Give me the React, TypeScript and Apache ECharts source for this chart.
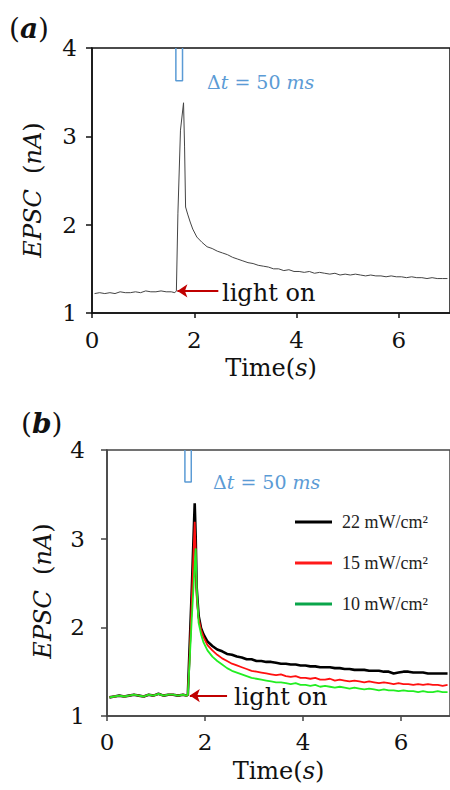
import React, { useEffect, useRef } from "react";
import * as echarts from "echarts";

// shared time base (s)
const timeS = [
  0.05, 0.15, 0.25, 0.35, 0.45, 0.55, 0.65, 0.75, 0.85, 0.95, 1.05, 1.15, 1.25, 1.35, 1.45, 1.55,
  1.62, 1.65, 1.68, 1.73, 1.79, 1.81, 1.83, 1.87, 1.92, 1.97, 2.05,
  2.15, 2.25, 2.35, 2.45, 2.55, 2.65, 2.75, 2.85, 2.95, 3.05,
  3.15, 3.25, 3.35, 3.45, 3.55, 3.65, 3.75, 3.85, 3.95, 4.05,
  4.15, 4.25, 4.35, 4.45, 4.55, 4.65, 4.75, 4.85, 4.95, 5.05,
  5.15, 5.25, 5.35, 5.45, 5.55, 5.65, 5.75, 5.85, 5.95, 6.05,
  6.15, 6.25, 6.35, 6.45, 6.55, 6.65, 6.75, 6.85, 6.95,
];

// panel (a) EPSC (nA)
const epscA = [
  1.22, 1.23, 1.22, 1.23, 1.22, 1.24, 1.23, 1.23, 1.24, 1.23, 1.25, 1.24, 1.24, 1.25, 1.24, 1.24,
  1.23, 1.25, 2.13, 3.07, 3.38, 2.88, 2.2, 2.12, 2.03, 1.95, 1.86,
  1.8, 1.75, 1.73, 1.7, 1.68, 1.66, 1.63, 1.61, 1.59, 1.57,
  1.56, 1.54, 1.53, 1.52, 1.5, 1.5, 1.48, 1.49, 1.47, 1.47,
  1.46, 1.47, 1.45, 1.46, 1.45, 1.44, 1.45, 1.43, 1.44, 1.43,
  1.44, 1.43, 1.42, 1.43, 1.42, 1.42, 1.41, 1.42, 1.41, 1.41,
  1.4, 1.41, 1.4, 1.4, 1.39, 1.4, 1.39, 1.39, 1.39,
];

// panel (b) EPSC (nA) for three light intensities
const epsc22 = [
  1.21, 1.22, 1.23, 1.22, 1.23, 1.24, 1.23, 1.22, 1.24, 1.23, 1.25, 1.23, 1.24, 1.24, 1.23, 1.24,
  1.23, 1.24, 1.69, 2.42, 3.4, 3.02, 2.45, 2.13, 1.99, 1.92, 1.84,
  1.79, 1.75, 1.73, 1.7, 1.69, 1.67, 1.66, 1.64, 1.64, 1.62,
  1.62, 1.61, 1.61, 1.6, 1.59, 1.59, 1.58, 1.58, 1.57, 1.57,
  1.56, 1.56, 1.55, 1.55, 1.55, 1.54, 1.54, 1.53, 1.53, 1.52,
  1.52, 1.52, 1.51, 1.51, 1.51, 1.5, 1.5, 1.48, 1.49, 1.5,
  1.5, 1.49, 1.49, 1.49, 1.48, 1.48, 1.48, 1.48, 1.48,
];
const epsc15 = [
  1.21, 1.22, 1.23, 1.22, 1.23, 1.24, 1.23, 1.22, 1.24, 1.23, 1.25, 1.23, 1.24, 1.24, 1.23, 1.24,
  1.23, 1.24, 1.6, 2.3, 3.19, 2.85, 2.35, 2.1, 1.97, 1.89, 1.8,
  1.74, 1.69, 1.65, 1.62, 1.59, 1.57, 1.55, 1.53, 1.51, 1.5,
  1.49, 1.48, 1.47, 1.46, 1.47, 1.45, 1.44, 1.45, 1.43, 1.43,
  1.42, 1.43, 1.41, 1.41, 1.42, 1.4, 1.41, 1.4, 1.39, 1.4,
  1.39, 1.38, 1.39, 1.38, 1.37, 1.38, 1.37, 1.36, 1.37, 1.36,
  1.36, 1.35, 1.36, 1.35, 1.36, 1.35, 1.35, 1.34, 1.35,
];
const epsc10 = [
  1.21, 1.22, 1.23, 1.22, 1.23, 1.24, 1.23, 1.22, 1.24, 1.23, 1.25, 1.23, 1.24, 1.24, 1.23, 1.24,
  1.23, 1.24, 1.55, 2.1, 2.7, 2.89, 2.45, 2.05, 1.92, 1.83, 1.74,
  1.67, 1.62, 1.58, 1.54, 1.51, 1.49, 1.47, 1.45, 1.43, 1.42,
  1.41, 1.4, 1.39, 1.38, 1.38, 1.37, 1.36, 1.37, 1.35, 1.35,
  1.34, 1.35, 1.33, 1.34, 1.33, 1.32, 1.33, 1.32, 1.31, 1.32,
  1.31, 1.3, 1.31, 1.3, 1.29, 1.3, 1.29, 1.29, 1.28, 1.29,
  1.28, 1.28, 1.27, 1.28, 1.27, 1.27, 1.28, 1.27, 1.27,
];

const seriesNames = ["22 mW/cm²", "15 mW/cm²", "10 mW/cm²"];

// light pulse (Δt = 50 ms) outlines, in data units
const pulseTimeA = [1.64, 1.64, 1.77, 1.77];
const pulseValA = [4, 3.63, 3.63, 4];
const pulseTimeB = [1.59, 1.59, 1.72, 1.72];
const pulseValB = [4, 3.64, 3.64, 4];

// "light on" arrows: [tail, head] in data units
const arrowA = [[2.47, 1.25], [1.67, 1.25]];
const arrowB = [[2.45, 1.23], [1.69, 1.23]];

const xTicksMax = 7;

const SERIF = "'DejaVu Serif', serif";
const TIMES = "'Liberation Serif', 'Times New Roman', serif";

function zip(t: number[], v: number[]) {
  return t.map((x, i) => [x, v[i]]);
}

function makeAxes(gridIndex: number, axisColor: string, yMargin: number, xMargin: number) {
  const x = {
    type: "value",
    gridIndex,
    min: 0,
    max: xTicksMax,
    interval: 2,
    splitLine: { show: false },
    axisLine: { lineStyle: { color: axisColor, width: 1.5 } },
    axisTick: { length: 5, lineStyle: { color: axisColor, width: 1.5 } },
    axisLabel: {
      showMaxLabel: false,
      margin: xMargin,
      fontFamily: SERIF,
      fontSize: 23,
      color: "#111",
    },
    name: "{n|Time(}{i|s}{n|)}",
    nameLocation: "middle",
    nameGap: 43,
    nameTextStyle: {
      rich: {
        n: { fontFamily: SERIF, fontSize: 24, color: "#111" },
        i: { fontFamily: SERIF, fontSize: 24, fontStyle: "italic", color: "#111" },
      },
    },
  };
  const y = {
    type: "value",
    gridIndex,
    min: 1,
    max: 4,
    interval: 1,
    splitLine: { show: false },
    axisLine: { lineStyle: { color: axisColor, width: 1.5 } },
    axisTick: { length: 6, lineStyle: { color: axisColor, width: 1.5 } },
    axisLabel: { margin: yMargin, fontFamily: SERIF, fontSize: 23, color: "#111" },
  };
  return { x, y };
}

function arrowLine(pts: number[][]) {
  return {
    silent: true,
    symbol: ["none", "arrow"],
    symbolSize: [10, 10],
    label: { show: false },
    lineStyle: { color: "#c00000", width: 2, type: "solid" },
    data: [[{ coord: pts[0] }, { coord: pts[1] }]],
  };
}

export default function App() {
  const ref = useRef<HTMLDivElement>(null);

  useEffect(() => {
    if (!ref.current) return;
    const chart = echarts.init(ref.current, undefined, { renderer: "svg" });
    const axA = makeAxes(0, "#111", 15, 15);
    const axB = makeAxes(1, "#444", 22, 14);

    const deltaRich = {
      n: { fontFamily: SERIF, fontSize: 19, fill: "#5b9bd5" },
      i: { fontFamily: SERIF, fontSize: 19, fontStyle: "italic", fill: "#5b9bd5" },
    };
    const yNameRich = {
      n: { fontFamily: SERIF, fontSize: 24, fill: "#111" },
      i: { fontFamily: SERIF, fontSize: 24, fontStyle: "italic", fill: "#111" },
    };
    const panelRich = {
      n: { fontFamily: SERIF, fontSize: 28, fill: "#111" },
      b: { fontFamily: SERIF, fontSize: 28, fontStyle: "italic", fontWeight: "bold", fill: "#111" },
    };

    const option: any = {
      animation: false,
      backgroundColor: "#fff",
      grid: [
        { left: 92, top: 48, width: 360, height: 265, show: true, borderColor: "#111", borderWidth: 1.5, backgroundColor: "transparent" },
        { left: 107, top: 450, width: 352, height: 266, show: true, borderColor: "#444", borderWidth: 1.5, backgroundColor: "transparent" },
      ],
      xAxis: [axA.x, axB.x],
      yAxis: [axA.y, axB.y],
      legend: {
        left: 290,
        top: 508,
        orient: "vertical",
        icon: "rect",
        itemWidth: 37,
        itemHeight: 3,
        itemGap: 23,
        textStyle: { fontFamily: TIMES, fontSize: 18, color: "#222", padding: [0, 0, 0, 5] },
        data: [
          { name: seriesNames[0], itemStyle: { color: "#000" } },
          { name: seriesNames[1], itemStyle: { color: "#ff1a1a" } },
          { name: seriesNames[2], itemStyle: { color: "#0aa54a" } },
        ],
      },
      series: [
        {
          type: "line",
          name: "a",
          xAxisIndex: 0,
          yAxisIndex: 0,
          data: zip(timeS, epscA),
          showSymbol: false,
          lineStyle: { color: "#444", width: 1 },
          markLine: arrowLine(arrowA),
        },
        {
          type: "line",
          name: "pulseA",
          xAxisIndex: 0,
          yAxisIndex: 0,
          data: zip(pulseTimeA, pulseValA),
          showSymbol: false,
          lineStyle: { color: "#5b9bd5", width: 1.5 },
        },
        {
          type: "line",
          name: seriesNames[0],
          xAxisIndex: 1,
          yAxisIndex: 1,
          data: zip(timeS, epsc22),
          showSymbol: false,
          itemStyle: { color: "#000" },
          lineStyle: { color: "#000", width: 2.6 },
        },
        {
          type: "line",
          name: seriesNames[1],
          xAxisIndex: 1,
          yAxisIndex: 1,
          data: zip(timeS, epsc15),
          showSymbol: false,
          itemStyle: { color: "#ff1a1a" },
          lineStyle: { color: "#ff1010", width: 1.8 },
        },
        {
          type: "line",
          name: seriesNames[2],
          xAxisIndex: 1,
          yAxisIndex: 1,
          data: zip(timeS, epsc10),
          showSymbol: false,
          itemStyle: { color: "#0aa54a" },
          lineStyle: { color: "#22ee22", width: 1.8 },
          markLine: arrowLine(arrowB),
        },
        {
          type: "line",
          name: "pulseB",
          xAxisIndex: 1,
          yAxisIndex: 1,
          data: zip(pulseTimeB, pulseValB),
          showSymbol: false,
          lineStyle: { color: "#5b9bd5", width: 1.5 },
        },
      ],
      graphic: [
        { type: "text", x: 9, y: 28, style: { text: "{n|(}{b|a}{n|)}", rich: panelRich, verticalAlign: "middle" } },
        { type: "text", x: 21, y: 423, style: { text: "{n|(}{b|b}{n|)}", rich: panelRich, verticalAlign: "middle" } },
        {
          type: "text", x: 33, y: 190, rotation: Math.PI / 2,
          style: { text: "{i|EPSC }{n| (}{i|nA}{n|)}", rich: yNameRich, align: "center", verticalAlign: "middle" },
        },
        {
          type: "text", x: 43, y: 591, rotation: Math.PI / 2,
          style: { text: "{i|EPSC }{n| (}{i|nA}{n|)}", rich: yNameRich, align: "center", verticalAlign: "middle" },
        },
        { type: "text", x: 207, y: 82, style: { text: "{n|Δ}{i|t}{n| = 50 }{i|ms}", rich: deltaRich, verticalAlign: "middle" } },
        { type: "text", x: 213, y: 482, style: { text: "{n|Δ}{i|t}{n| = 50 }{i|ms}", rich: deltaRich, verticalAlign: "middle" } },
        { type: "text", x: 222, y: 293, style: { text: "light on", font: `24px ${SERIF}`, fill: "#111", verticalAlign: "middle" } },
        { type: "text", x: 234, y: 697, style: { text: "light on", font: `24px ${SERIF}`, fill: "#111", verticalAlign: "middle" } },
      ],
    };
    chart.setOption(option);
    return () => chart.dispose();
  }, []);

  return (
    <div
      ref={ref}
      style={{ position: "fixed", left: 0, top: 0, width: 450, height: 790, background: "#fff" }}
    />
  );
}
